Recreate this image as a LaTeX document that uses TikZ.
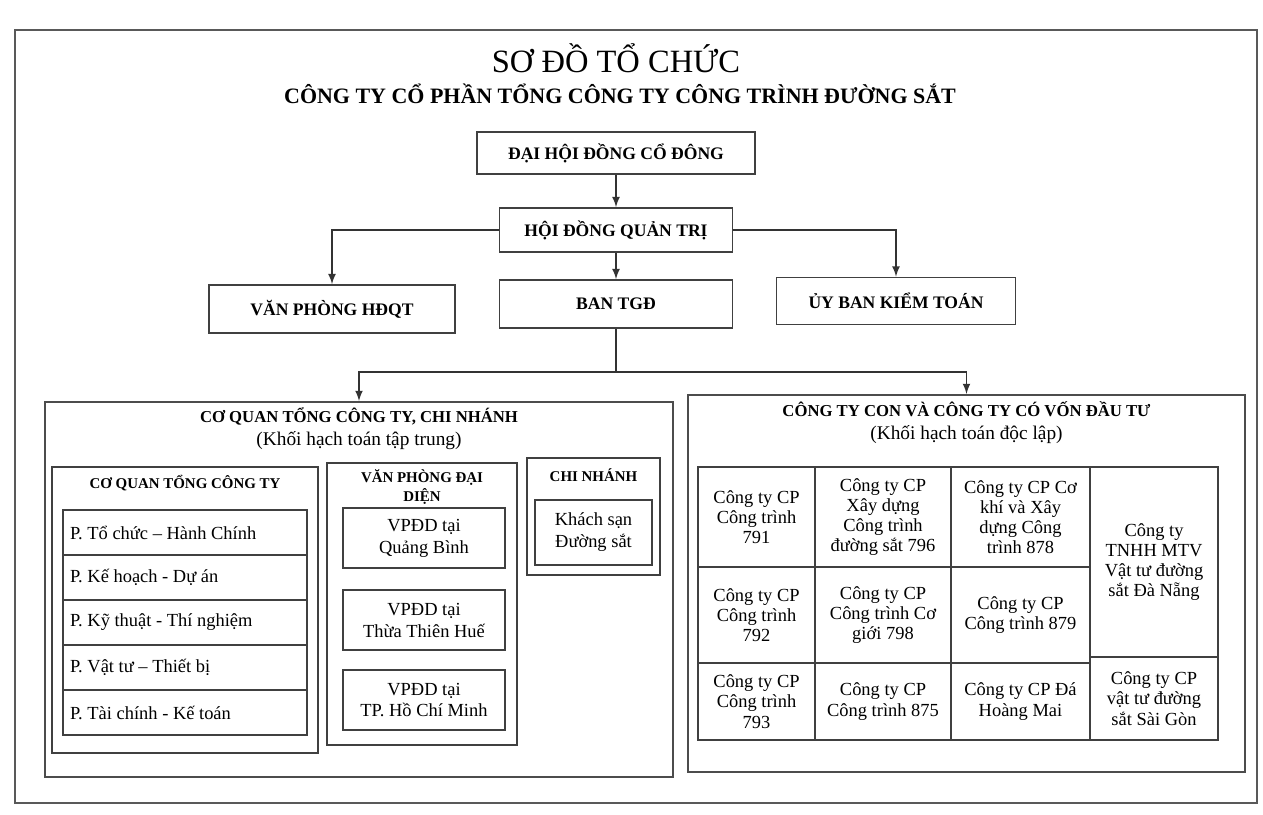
\documentclass[tikz,border=0pt]{standalone}
\usepackage{fontspec}
\setmainfont{Liberation Serif}
\pgfdeclarelayer{edgelayer}
\pgfdeclarelayer{nodelayer}
\pgfsetlayers{edgelayer,nodelayer,main}
\tikzstyle{none}=[inner sep=0pt]
\tikzstyle{orgbox}=[rectangle,draw=black!75,line width=1.000,inner sep=0pt,align=center,font=\bfseries\fontsize{10}{12}\selectfont]
\tikzstyle{panel}=[rectangle,draw=black!70,line width=1.200,inner sep=0pt]
\tikzstyle{subpanel}=[rectangle,draw=black!75,line width=1.000,inner sep=0pt]
\tikzstyle{header}=[inner sep=0pt,align=center,font=\bfseries\fontsize{8.5}{11}\selectfont]
\tikzstyle{paneltitle}=[inner sep=0pt,align=center]
\tikzstyle{listrow}=[rectangle,draw=black!75,line width=1.000,inner xsep=0.140cm,inner ysep=0pt,text width=4.600cm,minimum height=0.900cm,align=flush left,font=\fontsize{10.5}{12}\selectfont]
\tikzstyle{unitbox}=[rectangle,draw=black!75,line width=1.000,inner sep=0pt,align=center,font=\fontsize{10.5}{12.5}\selectfont]
\tikzstyle{gridcell}=[rectangle,draw=black!75,line width=1.000,inner sep=0pt,align=center,font=\fontsize{10.5}{11.5}\selectfont]
\tikzstyle{link}=[-,draw=black!80,line width=1.000]
\tikzstyle{arrow}=[-latex,draw=black!80,line width=1.000]
\tikzstyle{outerframe}=[-,draw=black!65,line width=1.600]

\begin{document}
\begin{tikzpicture}
	\useasboundingbox (0.000,0.000) rectangle (25.260,-16.280);
	\draw [style=outerframe] (0.300,-0.600) rectangle (25.140,-16.060);
	\begin{pgfonlayer}{nodelayer}
		\node [style=none, font=\fontsize{18.5}{20}\selectfont] (title) at (12.320,-1.160) {SƠ ĐỒ TỔ CHỨC};
		\node [style=none, font=\bfseries\fontsize{12.5}{14}\selectfont] (subtitle) at (12.400,-1.880) {CÔNG TY CỔ PHẦN TỔNG CÔNG TY CÔNG TRÌNH ĐƯỜNG SẮT};
		\node [style=orgbox, minimum width=5.560cm, minimum height=0.840cm] (dhdcd) at (12.320,-3.060) {ĐẠI HỘI ĐỒNG CỔ ĐÔNG};
		\node [style=orgbox, minimum width=4.660cm, minimum height=0.880cm] (hdqt) at (12.320,-4.600) {HỘI ĐỒNG QUẢN TRỊ};
		\node [style=orgbox, minimum width=4.920cm, minimum height=0.960cm] (vphdqt) at (6.640,-6.180) {VĂN PHÒNG HĐQT};
		\node [style=orgbox, minimum width=4.660cm, minimum height=0.960cm] (bantgd) at (12.320,-6.080) {BAN TGĐ};
		\node [style=orgbox, minimum width=4.780cm, minimum height=0.940cm] (ubkt) at (17.920,-6.020) {ỦY BAN KIỂM TOÁN};
		\coordinate (split) at (12.320,-7.440);
		\node [style=panel, minimum width=12.560cm, minimum height=7.500cm] (leftpanel) at (7.180,-11.790) {};
		\node [style=panel, minimum width=11.140cm, minimum height=7.540cm] (rightpanel) at (19.330,-11.670) {};
		\node [style=paneltitle] (lefttitle) at (7.180,-8.580) {{\bfseries\fontsize{9.5}{11}\selectfont CƠ QUAN TỔNG CÔNG TY, CHI NHÁNH}\\[1pt]{\fontsize{11}{13}\selectfont (Khối hạch toán tập trung)}};
		\node [style=paneltitle] (righttitle) at (19.330,-8.460) {{\bfseries\fontsize{9.5}{11}\selectfont CÔNG TY CON VÀ CÔNG TY CÓ VỐN ĐẦU TƯ}\\[1pt]{\fontsize{11}{13}\selectfont (Khối hạch toán độc lập)}};
		\node [style=subpanel, minimum width=5.320cm, minimum height=5.720cm] (hqbox) at (3.700,-12.200) {};
		\node [style=header] (hqhead) at (3.700,-9.660) {CƠ QUAN TỔNG CÔNG TY};
		\node [style=listrow] (tochuc) at (3.700,-10.650) {P. Tổ chức -- Hành Chính};
		\node [style=listrow] (kehoach) at (3.700,-11.550) {P. Kế hoạch - Dự án};
		\node [style=listrow] (kythuat) at (3.700,-12.450) {P. Kỹ thuật - Thí nghiệm};
		\node [style=listrow] (vattu) at (3.700,-13.350) {P. Vật tư -- Thiết bị};
		\node [style=listrow] (taichinh) at (3.700,-14.250) {P. Tài chính - Kế toán};
		\node [style=subpanel, minimum width=3.800cm, minimum height=5.640cm] (vpddbox) at (8.440,-12.080) {};
		\node [style=header] (vpddhead) at (8.440,-9.740) {VĂN PHÒNG ĐẠI\\DIỆN};
		\node [style=unitbox, minimum width=3.240cm, minimum height=1.200cm] (vpddqb) at (8.480,-10.760) {VPĐD tại\\Quảng Bình};
		\node [style=unitbox, minimum width=3.240cm, minimum height=1.200cm] (vpddhue) at (8.480,-12.400) {VPĐD tại\\Thừa Thiên Huế};
		\node [style=unitbox, minimum width=3.240cm, minimum height=1.200cm] (vpddhcm) at (8.480,-14.000) {VPĐD tại\\TP. Hồ Chí Minh};
		\node [style=subpanel, minimum width=2.660cm, minimum height=2.340cm] (cnbox) at (11.870,-10.330) {};
		\node [style=header] (cnhead) at (11.870,-9.500) {CHI NHÁNH};
		\node [style=unitbox, minimum width=2.340cm, minimum height=1.300cm] (khachsan) at (11.870,-10.650) {Khách sạn\\Đường sắt};
		\node [style=gridcell, minimum width=2.340cm, minimum height=2.000cm] (ct791) at (15.130,-10.340) {Công ty CP\\Công trình\\791};
		\node [style=gridcell, minimum width=2.720cm, minimum height=2.000cm] (ct796) at (17.660,-10.340) {Công ty CP\\Xây dựng\\Công trình\\đường sắt 796};
		\node [style=gridcell, minimum width=2.780cm, minimum height=2.000cm] (ct878) at (20.410,-10.340) {Công ty CP Cơ\\khí và Xây\\dựng Công\\trình 878};
		\node [style=gridcell, minimum width=2.560cm, minimum height=3.800cm] (danang) at (23.080,-11.240) {Công ty\\TNHH MTV\\Vật tư đường\\sắt Đà Nẵng};
		\node [style=gridcell, minimum width=2.340cm, minimum height=1.920cm] (ct792) at (15.130,-12.300) {Công ty CP\\Công trình\\792};
		\node [style=gridcell, minimum width=2.720cm, minimum height=1.920cm] (ct798) at (17.660,-12.300) {Công ty CP\\Công trình Cơ\\giới 798};
		\node [style=gridcell, minimum width=2.780cm, minimum height=1.920cm] (ct879) at (20.410,-12.300) {Công ty CP\\Công trình 879};
		\node [style=gridcell, minimum width=2.340cm, minimum height=1.540cm] (ct793) at (15.130,-14.030) {Công ty CP\\Công trình\\793};
		\node [style=gridcell, minimum width=2.720cm, minimum height=1.540cm] (ct875) at (17.660,-14.030) {Công ty CP\\Công trình 875};
		\node [style=gridcell, minimum width=2.780cm, minimum height=1.540cm] (hoangmai) at (20.410,-14.030) {Công ty CP Đá\\Hoàng Mai};
		\node [style=gridcell, minimum width=2.560cm, minimum height=1.660cm] (saigon) at (23.080,-13.970) {Công ty CP\\vật tư đường\\sắt Sài Gòn};
	\end{pgfonlayer}
	\begin{pgfonlayer}{edgelayer}
		\draw [style=arrow] (dhdcd) to (hdqt);
		\draw [style=arrow] (hdqt.west) -| (vphdqt.north);
		\draw [style=arrow] (hdqt.east) -| (ubkt.north);
		\draw [style=arrow] (hdqt) to (bantgd);
		\draw [style=link] (bantgd) to (split);
		\draw [style=arrow] (split) -| (leftpanel.north);
		\draw [style=arrow] (split) -| (rightpanel.north);
	\end{pgfonlayer}
\end{tikzpicture}
\end{document}
